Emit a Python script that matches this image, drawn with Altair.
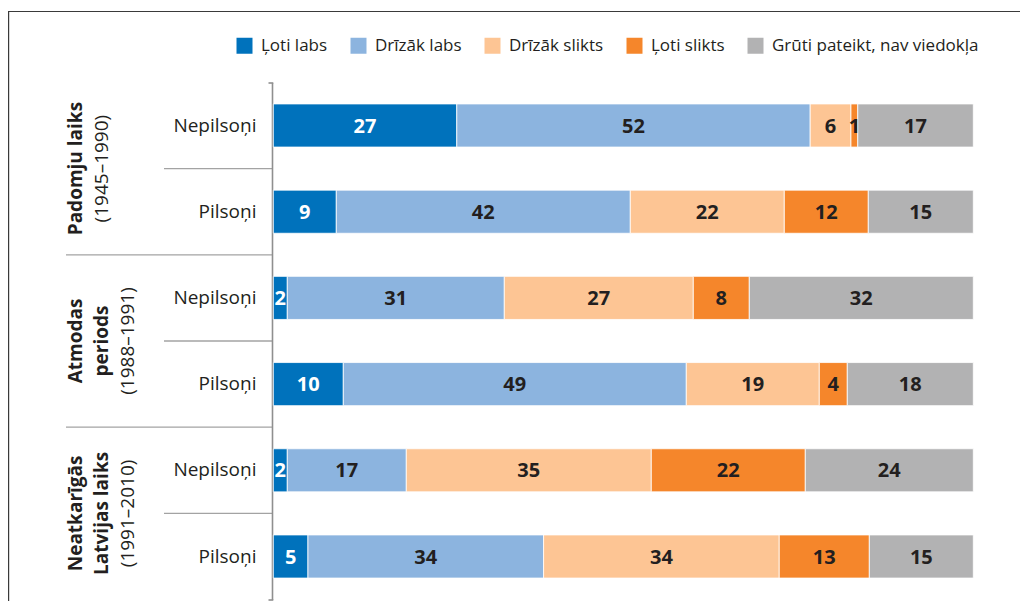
import altair as alt
import pandas as pd

categories = ["Ļoti labs", "Drīzāk labs", "Drīzāk slikts", "Ļoti slikts", "Grūti pateikt, nav viedokļa"]
colors = ["#0072bc", "#8cb4df", "#fdc594", "#f5862b", "#b2b2b3"]
row_labels = ["Nepilsoņi", "Pilsoņi", "Nepilsoņi", "Pilsoņi", "Nepilsoņi", "Pilsoņi"]
group_lines = [["Padomju laiks"], ["Atmodas", "periods"], ["Neatkarīgās", "Latvijas laiks"]]
group_years = ["(1945–1990)", "(1988–1991)", "(1991–2010)"]

loti_labs = [27, 9, 2, 10, 2, 5]
drizak_labs = [52, 42, 31, 49, 17, 34]
drizak_slikts = [6, 22, 27, 19, 35, 34]
loti_slikts = [1, 12, 8, 4, 22, 13]
gruti = [17, 15, 32, 18, 24, 15]
series = [loti_labs, drizak_labs, drizak_slikts, loti_slikts, gruti]

DARK = "#231f20"
FONT = "Open Sans"

long = pd.DataFrame(
    [
        {"row": r, "category": cat, "order": ci, "value": series[ci][r]}
        for r in range(len(row_labels))
        for ci, cat in enumerate(categories)
    ]
)
rows = pd.DataFrame({"row": list(range(len(row_labels))), "label": row_labels})
glab = []
for g, lines in enumerate(group_lines):
    for li, t in enumerate(lines):
        glab.append({"group": g, "line": li, "text": t, "bold": 1})
    glab.append({"group": g, "line": len(lines), "text": group_years[g], "bold": 0})
glab = pd.DataFrame(glab)
one = pd.DataFrame({"k": [0]})

xscale = alt.Scale(domain=[0, 100], range=[265.3, 965.3], nice=False, zero=False)
yscale = alt.Scale(domain=[0, 5], range=[117.5, 548.5], nice=False, zero=False)

base = (
    alt.Chart(long)
    .transform_joinaggregate(total="sum(value)", groupby=["row"])
    .transform_window(cum="sum(value)", sort=[alt.SortField("order")], groupby=["row"], frame=[None, 0])
    .transform_calculate(
        x0="(datum.cum - datum.value) / datum.total * 100",
        x1="datum.cum / datum.total * 100",
        xm="(datum.cum - datum.value / 2) / datum.total * 100",
        y0="datum.row - 0.25",
        y1="datum.row + 0.25",
    )
)

bars = base.mark_rect(stroke="white", strokeWidth=0.8).encode(
    x=alt.X("x0:Q", scale=xscale, axis=None),
    x2="x1:Q",
    y=alt.Y("y0:Q", scale=yscale, axis=None),
    y2="y1:Q",
    color=alt.Color(
        "category:N",
        scale=alt.Scale(domain=categories, range=colors),
        legend=alt.Legend(
            title=None,
            orient="none",
            legendX=228,
            legendY=29,
            direction="horizontal",
            symbolType="square",
            symbolSize=256,
            symbolStrokeWidth=0,
            labelFont=FONT,
            labelFontSize=17,
            labelColor=DARK,
            labelOffset=8,
            labelLimit=500,
            columnPadding=22,
            padding=0,
        ),
    ),
)

labels = base.mark_text(font=FONT, fontSize=20, fontWeight="bold", align="center", baseline="middle", dy=1).encode(
    x=alt.X("xm:Q", scale=xscale, axis=None),
    y=alt.Y("row:Q", scale=yscale, axis=None),
    text=alt.Text("value:Q"),
    color=alt.condition(alt.datum.order == 0, alt.value("white"), alt.value(DARK)),
)

row_text = alt.Chart(rows).mark_text(font=FONT, fontSize=19, align="right", baseline="middle", color=DARK).encode(
    x=alt.value(248.5),
    y=alt.Y("row:Q", scale=yscale, axis=None),
    text="label:N",
)

sep_base = alt.Chart(rows).transform_filter("datum.row < 5").transform_calculate(ysep="datum.row + 0.5")
sep_inner = sep_base.transform_filter("datum.row % 2 == 0").mark_rule(color="#a3a3a3", strokeWidth=1.3).encode(
    x=alt.value(156), x2=alt.value(264.5), y=alt.Y("ysep:Q", scale=yscale, axis=None)
)
sep_group = sep_base.transform_filter("datum.row % 2 == 1").mark_rule(color="#a3a3a3", strokeWidth=1.3).encode(
    x=alt.value(58), x2=alt.value(264.5), y=alt.Y("ysep:Q", scale=yscale, axis=None)
)

axis_line = alt.Chart(one).mark_rule(color="#8f8f8f", strokeWidth=1.6).encode(
    x=alt.value(264.5), y=alt.value(75), y2=alt.value(592)
)
tick_top = alt.Chart(one).mark_rule(color="#8f8f8f", strokeWidth=1.6).encode(
    x=alt.value(260.5), x2=alt.value(265.3), y=alt.value(75)
)
tick_bot = alt.Chart(one).mark_rule(color="#8f8f8f", strokeWidth=1.6).encode(
    x=alt.value(260.5), x2=alt.value(265.3), y=alt.value(592)
)

frame_top = alt.Chart(one).mark_rule(color="#3a3a3a", strokeWidth=1.2).encode(
    x=alt.value(0), x2=alt.value(1012), y=alt.value(3.5)
)
frame_left = alt.Chart(one).mark_rule(color="#3a3a3a", strokeWidth=1.2).encode(
    x=alt.value(0.6), y=alt.value(3), y2=alt.value(593)
)

gbase = alt.Chart(glab).transform_calculate(ycen="datum.group * 2 + 0.5")
line_x = [74, 100, 126]
group_layers = []
for li, px in enumerate(line_x):
    for b in (1, 0):
        group_layers.append(
            gbase.transform_filter(f"datum.line == {li} && datum.bold == {b}")
            .mark_text(
                font=FONT,
                fontSize=19,
                fontWeight="bold" if b else "normal",
                angle=270,
                align="center",
                baseline="alphabetic",
                color=DARK,
            )
            .encode(x=alt.value(px), y=alt.Y("ycen:Q", scale=yscale, axis=None), text="text:N")
        )

chart = (
    alt.layer(
        frame_top, frame_left, sep_inner, sep_group, axis_line, tick_top, tick_bot,
        bars, labels, row_text, *group_layers
    )
    .properties(width=1012, height=593, padding=0, autosize=alt.AutoSizeParams(type="none"))
    .configure_view(stroke=None)
)

chart.save("out.html", embed_options={"renderer": "svg", "actions": False})
